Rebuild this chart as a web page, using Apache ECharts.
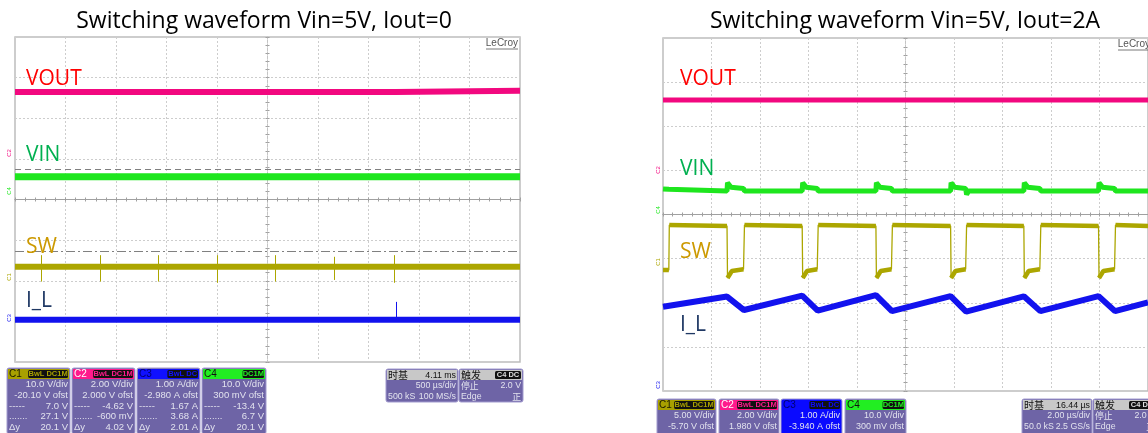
<!DOCTYPE html>
<html>
<head>
<meta charset="utf-8">
<script src="https://cdn.jsdelivr.net/npm/echarts/dist/echarts.min.js"></script>
<style>
  html, body { margin: 0; padding: 0; background: #fff; }
  #chart { width: 1148px; height: 433px; }
</style>
</head>
<body>
<div id="chart"></div>
<script>
  // 示波器截图: 时间和幅度都以格(div)为单位, x -5..5, y -4..4

  // 左图 Vin=5V, Iout=0
  const voutLeftT = [-5, 2.54, 2.55, 5];
  const voutLeftV = [2.645, 2.645, 2.675, 2.675];
  const vinLeftT = [-5, 5];
  const vinLeftV = [0.56, 0.56];
  const swLeftT = [-5, 5];
  const swLeftV = [-1.655, -1.655];
  const swLeftSpikeT = [-4.485, -3.317, -2.168, -1.0, 0.149, 1.317, 2.505];
  const swLeftSpikeTop = [-1.37, -1.37, -1.37, -1.37, -1.37, -1.41, -1.37];
  const swLeftSpikeBot = [-2.02, -2.02, -2.02, -2.05, -2.02, -1.98, -2.05];
  const ilLeftT = [-5, 5];
  const ilLeftV = [-2.96, -2.96];
  const ilLeftSpikeT = [2.545];
  const ilLeftSpikeTop = [-2.52];
  const cursorDash = 0.744;
  const cursorDashDot = -1.286;

  // 右图 Vin=5V, Iout=2A
  const voutRightT = [-5, 5];
  const voutRightV = [2.595, 2.595];
  const vinRightT = [-5, -4.88, -4.86, -3.68, -3.67, -3.6, -3.34, -3.32, -2.13, -2.12, -2.05, -1.82, -1.8,
    -0.61, -0.6, -0.53, -0.29, -0.27, 0.93, 0.94, 1.01, 1.24, 1.26, 1.3, 2.44, 2.45, 2.52, 2.77, 2.79,
    3.98, 3.99, 4.06, 4.31, 4.33, 5];
  const vinRightV = [0.58, 0.57, 0.53, 0.53, 0.72, 0.62, 0.59, 0.53, 0.53, 0.72, 0.62, 0.59, 0.53,
    0.53, 0.72, 0.62, 0.59, 0.53, 0.53, 0.72, 0.62, 0.59, 0.45, 0.53, 0.53, 0.72, 0.62, 0.59, 0.53,
    0.53, 0.72, 0.62, 0.59, 0.53, 0.53];
  const swRightT = [-5, -4.88, -4.87, -3.68, -3.67, -3.58, -3.34, -3.32, -2.13, -2.12, -2.03, -1.82, -1.8,
    -0.61, -0.6, -0.51, -0.29, -0.27, 0.93, 0.94, 1.03, 1.24, 1.26, 2.44, 2.45, 2.54, 2.77, 2.79,
    3.98, 3.99, 4.08, 4.31, 4.33, 5];
  const swRightV = [-1.26, -1.26, -0.24, -0.26, -1.44, -1.28, -1.24, -0.24, -0.26, -1.44, -1.28, -1.24, -0.24,
    -0.26, -1.44, -1.28, -1.24, -0.24, -0.26, -1.44, -1.28, -1.24, -0.24, -0.26, -1.44, -1.28, -1.24, -0.24,
    -0.26, -1.44, -1.28, -1.24, -0.24, -0.26];
  const ilRightT = [-5, -3.68, -3.33, -2.13, -1.81, -0.61, -0.28, 0.93, 1.25, 2.44, 2.78, 3.98, 4.32, 5];
  const ilRightV = [-2.09, -1.86, -2.165, -1.84, -2.18, -1.825, -2.19, -1.85, -2.2, -1.855, -2.19, -1.85, -2.19, -1.99];

  const C_VOUT = '#f2087f', C_VIN = '#1ee61e', C_SW = '#aca600', C_IL = '#1212ee';

  function pts(t, v) { return t.map((x, i) => [x, v[i]]); }
  // 粗线只画平台, 跳变沿用细线
  function plateaus(t, v) {
    const out = [];
    t.forEach((x, i) => {
      if (i > 0 && Math.abs(v[i] - v[i - 1]) > 0.5) out.push([x, '-']);
      out.push([x, v[i]]);
    });
    return out;
  }

  function line(name, data, color, width, gi) {
    return {
      name: name, type: 'line', data: data, xAxisIndex: gi * 2, yAxisIndex: gi * 2,
      symbol: 'none', silent: true, animation: false,
      lineStyle: { color: color, width: width }
    };
  }

  function xAxes(gi) {
    return [
      { gridIndex: gi, type: 'value', min: -5, max: 5, interval: 1, position: 'bottom',
        axisLine: { onZero: true, lineStyle: { color: '#a0a0a0', width: 1 } },
        axisTick: { show: true, length: 2, lineStyle: { color: '#a0a0a0' } },
        minorTick: { show: true, splitNumber: 5, length: 2, lineStyle: { color: '#a0a0a0' } },
        axisLabel: { show: false },
        splitLine: { show: true, lineStyle: { color: '#cdcdcd', type: [2, 2], width: 1 } } },
      { gridIndex: gi, type: 'value', min: -5, max: 5, interval: 1, position: 'top',
        axisLine: { onZero: true, lineStyle: { color: '#a0a0a0', width: 1 } },
        axisTick: { show: true, length: 2, lineStyle: { color: '#a0a0a0' } },
        minorTick: { show: true, splitNumber: 5, length: 2, lineStyle: { color: '#a0a0a0' } },
        axisLabel: { show: false }, splitLine: { show: false } }
    ];
  }
  function yAxes(gi) {
    return [
      { gridIndex: gi, type: 'value', min: -4, max: 4, interval: 1, position: 'left',
        axisLine: { onZero: true, lineStyle: { color: '#c4c4c4', width: 1, type: [2, 2] } },
        axisTick: { show: true, length: 2, lineStyle: { color: '#a0a0a0' } },
        minorTick: { show: true, splitNumber: 5, length: 2, lineStyle: { color: '#a0a0a0' } },
        axisLabel: { show: false },
        splitLine: { show: true, lineStyle: { color: '#cdcdcd', type: [2, 2], width: 1 } } },
      { gridIndex: gi, type: 'value', min: -4, max: 4, interval: 1, position: 'right',
        axisLine: { onZero: true, lineStyle: { color: '#c4c4c4', width: 1, type: [2, 2] } },
        axisTick: { show: true, length: 2, lineStyle: { color: '#a0a0a0' } },
        minorTick: { show: true, splitNumber: 5, length: 2, lineStyle: { color: '#a0a0a0' } },
        axisLabel: { show: false }, splitLine: { show: false } }
    ];
  }

  const FONT = '"Open Sans", "Noto Sans", sans-serif';
  const SMALL = '"Liberation Sans", Arial, sans-serif';
  const CJK = '"Noto Sans CJK SC", sans-serif';

  function txt(x, y, s, size, color, align) {
    return { type: 'text', x: x, y: y, silent: true, z: 50,
      style: { text: s, fill: color, font: size + 'px ' + FONT, align: align || 'left', verticalAlign: 'middle' } };
  }

  // 底部通道信息框
  function infoBox(x, y, w, h, head, headText, headColor, headRight, badge, rows, body, fs) {
    const els = [];
    const size = fs || 9.5;
    els.push({ type: 'rect', shape: { x: x, y: y, width: w, height: h, r: 2 },
      style: { fill: body || '#6e64a6', stroke: '#a29bcf', lineWidth: 1 } });
    els.push({ type: 'rect', shape: { x: x + 1, y: y + 1, width: w - 2, height: 10 },
      style: { fill: head } });
    const hf = /[\u4e00-\u9fff]/.test(headText) ? CJK : SMALL;
    els.push({ type: 'text', x: x + 2, y: y + 6.5,
      style: { text: headText, fill: headColor, font: '10px ' + hf, verticalAlign: 'middle' } });
    if (headRight) {
      els.push({ type: 'text', x: x + w - 2, y: y + 6.5,
        style: { text: headRight, fill: '#111', font: size + 'px ' + SMALL, align: 'right', verticalAlign: 'middle' } });
    }
    if (badge) {
      const bw = badge.length * 4.6 + 3;
      els.push({ type: 'rect', shape: { x: x + w - 2 - bw, y: y + 2, width: bw, height: 8, r: 1.5 },
        style: { fill: '#111' } });
      els.push({ type: 'text', x: x + w - 2 - bw / 2, y: y + 6.3,
        style: { text: badge, fill: head === '#c8c8c8' ? '#ddd' : head, font: 'bold 7.5px ' + SMALL, align: 'center', verticalAlign: 'middle' } });
    }
    rows.forEach((r, i) => {
      const ry = y + 16.5 + i * 10.7;
      if (r[0]) {
        const lf = /[\u4e00-\u9fff]/.test(r[0]) ? CJK : SMALL;
        els.push({ type: 'text', x: x + 2, y: ry,
          style: { text: r[0], fill: '#e2e2ee', font: size + 'px ' + lf, verticalAlign: 'middle' } });
      }
      const rf = /[\u4e00-\u9fff]/.test(r[1]) ? CJK : SMALL;
      els.push({ type: 'text', x: x + w - 2, y: ry,
        style: { text: r[1], fill: '#e2e2ee', font: size + 'px ' + rf, align: 'right', verticalAlign: 'middle' } });
    });
    return { type: 'group', silent: true, z: 40, children: els };
  }

  function chMark(x, y, s, color) {
    return { type: 'text', x: x, y: y, rotation: Math.PI / 2, silent: true, z: 50,
      style: { text: s, fill: color, font: '6px ' + SMALL, align: 'center', verticalAlign: 'middle' } };
  }
  function leCroy(xr, y) {
    return [
      { type: 'text', x: xr, y: y, silent: true, z: 50,
        style: { text: 'LeCroy', fill: '#555', font: '10px ' + SMALL, align: 'right', verticalAlign: 'middle' } },
      { type: 'line', silent: true, z: 50, shape: { x1: xr - 32, y1: y + 6, x2: xr, y2: y + 6 },
        style: { stroke: '#555', lineWidth: 0.8 } }
    ];
  }

  const leftRows = [
    [['', '10.0 V/div'], ['', '-20.10 V ofst'], ['-----', '7.0 V'], ['.......', '27.1 V'], ['Δy', '20.1 V']],
    [['', '2.00 V/div'], ['', '2.000 V ofst'], ['-----', '-4.62 V'], ['.......', '-600 mV'], ['Δy', '4.02 V']],
    [['', '1.00 A/div'], ['', '-2.980 A ofst'], ['-----', '1.67 A'], ['.......', '3.68 A'], ['Δy', '2.01 A']],
    [['', '10.0 V/div'], ['', '300 mV ofst'], ['-----', '-13.4 V'], ['.......', '6.7 V'], ['Δy', '20.1 V']]
  ];
  const rightRows = [
    [['', '5.00 V/div'], ['', '-5.70 V ofst']],
    [['', '2.00 V/div'], ['', '1.980 V ofst']],
    [['', '1.00 A/div'], ['', '-3.940 A ofst']],
    [['', '10.0 V/div'], ['', '300 mV ofst']]
  ];

  const graphics = [
    txt(264, 21, 'Switching waveform Vin=5V, Iout=0', 23, '#000', 'center'),
    txt(905, 21, 'Switching waveform Vin=5V, Iout=2A', 23, '#000', 'center'),
    txt(26, 79, 'VOUT', 21, '#ff0000'),
    txt(26, 155, 'VIN', 21, '#00b050'),
    txt(26, 247, 'SW', 21, '#cc9900'),
    txt(26, 301, 'I_L', 21, '#1f3864'),
    txt(680, 79, 'VOUT', 21, '#ff0000'),
    txt(680, 169, 'VIN', 21, '#00b050'),
    txt(680, 252, 'SW', 21, '#cc9900'),
    txt(680, 325, 'I_L', 21, '#1f3864'),
    chMark(9, 153, 'C2', C_VOUT), chMark(9, 191, 'C4', C_VIN), chMark(9, 277, 'C1', C_SW), chMark(9, 318, 'C3', C_IL),
    chMark(658, 170, 'C2', C_VOUT), chMark(658, 210, 'C4', C_VIN), chMark(658, 262, 'C1', C_SW), chMark(658, 385, 'C3', C_IL),
    ...leCroy(518, 43), ...leCroy(1150, 44),
    infoBox(7, 368, 63, 66, '#a8a000', 'C1', '#1a1a00', null, 'BwL DC1M', leftRows[0]),
    infoBox(72, 368, 63, 66, '#ff1a8c', 'C2', '#fff', null, 'BwL DC1M', leftRows[1]),
    infoBox(137, 368, 63, 66, '#1010ff', 'C3', '#000070', null, 'BwL DC', leftRows[2]),
    infoBox(202, 368, 64, 66, '#22ee22', 'C4', '#111', null, 'DC1M', leftRows[3]),
    infoBox(386, 369, 72, 33, '#c8c8c8', '时基', '#111', '4.11 ms', null, [['', '500 µs/div'], ['500 kS', '100 MS/s']], null, 8.8),
    infoBox(459, 369, 64, 33, '#c8c8c8', '触发', '#111', null, 'C4 DC', [['停止', '2.0 V'], ['Edge', '正']], null, 8.8),
    infoBox(657, 399, 59, 40, '#a8a000', 'C1', '#1a1a00', null, 'BwL DC1M', rightRows[0], null, 9),
    infoBox(719, 399, 60, 40, '#ff1a8c', 'C2', '#fff', null, 'BwL DC1M', rightRows[1], null, 9),
    infoBox(781, 399, 61, 40, '#0a0aff', 'C3', '#000070', null, 'BwL DC', rightRows[2], '#0a0aff', 9),
    infoBox(845, 399, 61, 40, '#22ee22', 'C4', '#111', null, 'DC1M', rightRows[3], null, 9),
    infoBox(1022, 399, 70, 40, '#c8c8c8', '时基', '#111', '16.44 µs', null, [['', '2.00 µs/div'], ['50.0 kS', '2.5 GS/s']], null, 8.8),
    infoBox(1093, 399, 64, 40, '#c8c8c8', '触发', '#111', null, 'C4 DC', [['停止', '2.0 V'], ['Edge', '正']], null, 8.8)
  ];

  const swLeft = line('SW', pts(swLeftT, swLeftV), C_SW, 6, 0);
  swLeft.markLine = {
    symbol: 'none', silent: true, animation: false, label: { show: false },
    lineStyle: { color: C_SW, width: 1, type: 'solid' },
    data: swLeftSpikeT.map((t, i) => [{ coord: [t, swLeftSpikeTop[i]] }, { coord: [t, swLeftSpikeBot[i]] }])
      .concat([[{ coord: [-5, cursorDashDot], lineStyle: { color: '#808080', type: [9, 3, 2, 3], width: 1.2 } },
               { coord: [5, cursorDashDot] }]])
  };
  const vinLeft = line('VIN', pts(vinLeftT, vinLeftV), C_VIN, 7, 0);
  vinLeft.markLine = {
    symbol: 'none', silent: true, animation: false, label: { show: false },
    lineStyle: { color: '#808080', width: 1.2, type: [6, 4] },
    data: [[{ coord: [-5, cursorDash] }, { coord: [5, cursorDash] }]]
  };
  const ilLeft = line('I_L', pts(ilLeftT, ilLeftV), C_IL, 6, 0);
  ilLeft.markLine = {
    symbol: 'none', silent: true, animation: false, label: { show: false },
    lineStyle: { color: C_IL, width: 1, type: 'solid' },
    data: ilLeftSpikeT.map((t, i) => [{ coord: [t, ilLeftSpikeTop[i]] }, { coord: [t, ilLeftV[0]] }])
  };

  const option = {
    backgroundColor: '#fff',
    animation: false,
    grid: [
      { left: 15, top: 37, width: 505, height: 325, show: true, borderColor: '#bdbdbd', borderWidth: 1.5, backgroundColor: '#fff', z: 0 },
      { left: 663, top: 38, width: 492, height: 353, show: true, borderColor: '#bdbdbd', borderWidth: 1.5, backgroundColor: '#fff', z: 0 }
    ],
    xAxis: xAxes(0).concat(xAxes(1)),
    yAxis: yAxes(0).concat(yAxes(1)),
    series: [
      line('VOUT', pts(voutLeftT, voutLeftV), C_VOUT, 6, 0),
      vinLeft,
      swLeft,
      ilLeft,
      line('VOUT', pts(voutRightT, voutRightV), C_VOUT, 5, 1),
      line('VIN', pts(vinRightT, vinRightV), C_VIN, 5, 1),
      line('SW', pts(swRightT, swRightV), C_SW, 1.3, 1),
      line('SW', plateaus(swRightT, swRightV), C_SW, 4.5, 1),
      line('I_L', pts(ilRightT, ilRightV), C_IL, 6, 1)
    ],
    graphic: graphics
  };

  const myChart = echarts.init(document.getElementById('chart'));
  myChart.setOption(option);
</script>
</body>
</html>
